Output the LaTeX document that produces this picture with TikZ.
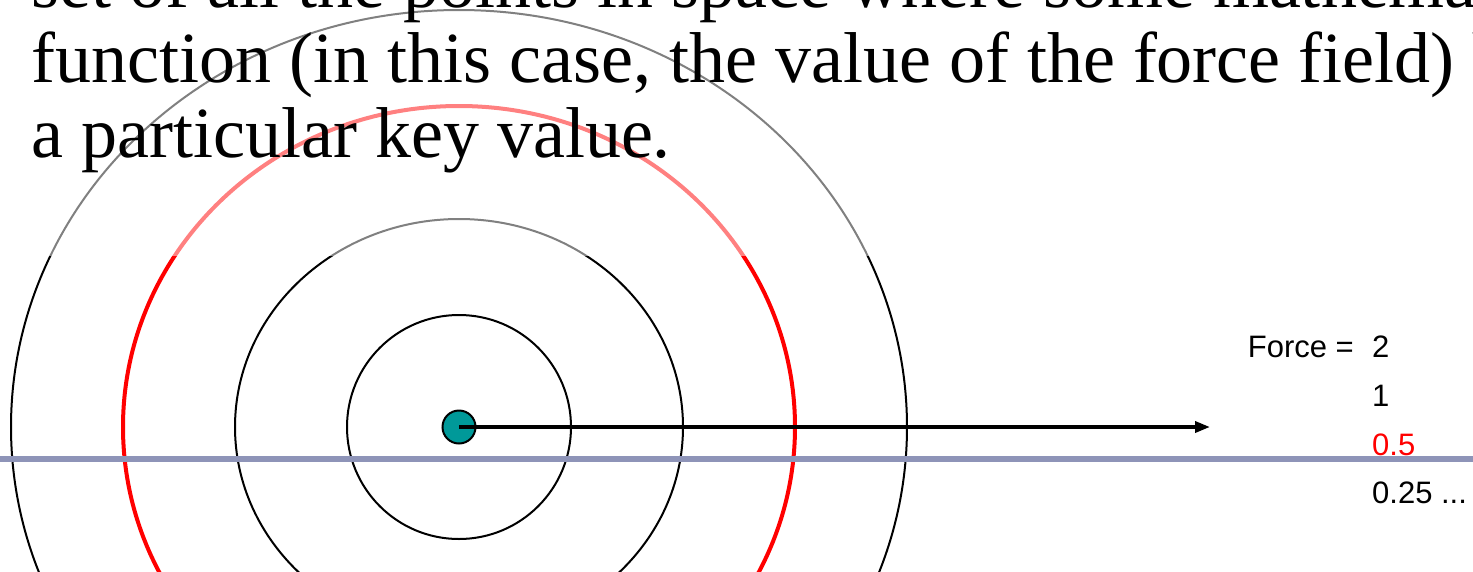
\documentclass[tikz,border=0pt]{standalone}
\usepackage{fontspec}
\setmainfont{Liberation Serif}
\setsansfont{Liberation Sans}
\usetikzlibrary{arrows.meta}
\definecolor{dotteal}{RGB}{0,153,153}
\definecolor{rulegray}{RGB}{142,148,184}
\tikzset{ring/.style={draw=black, line width=2pt},
  keyring/.style={draw=red, line width=4pt},
  bodyline/.style={font=\fontsize{72}{75}\selectfont, inner sep=0pt, anchor=base west},
  forcelbl/.style={font=\sffamily\fontsize{31}{36}\selectfont, inner sep=0pt, anchor=base west}}

\begin{document}
\begin{tikzpicture}[x=1pt,y=-1pt]
  \path [use as bounding box, clip] (0,0) rectangle (1473,571);
  \fill [white] (0,0) rectangle (1473,571);
  \coordinate (mid) at (459,427);
  \coordinate (tip) at (1210,427);
  % rings of equal force
  \draw [ring]    (mid) ellipse [x radius=112, y radius=112];
  \draw [ring]    (mid) ellipse [x radius=224, y radius=208];
  \draw [keyring] (mid) ellipse [x radius=336, y radius=321];
  \draw [ring]    (mid) ellipse [x radius=448, y radius=417];
  % text box over the top
  \fill [white, opacity=0.5] (0,0) rectangle (1473,256);
  \node [bodyline] (ln1) at (31,7)   {set of all the points in space where some mathematical};
  \node [bodyline] (ln2) at (31,82)  {function (in this case, the value of the force field) has};
  \node [bodyline] (ln3) at (31,157) {a particular key value.};
  \node [circle, draw=black, line width=2pt, fill=dotteal, minimum size=33pt, inner sep=0pt] (src) at (mid) {};
  \draw [line width=3.5pt, -{Triangle[length=15pt,width=11pt]}] (src.center) -- (tip);
  \node [forcelbl, anchor=base east] (forcetxt) at (1354,357) {Force =};
  \node [forcelbl] (ftwo)     at (1372,357) {2};
  \node [forcelbl] (fone)     at (1372,406) {1};
  \node [forcelbl, text=red] (fhalf) at (1372,455) {0.5};
  \node [forcelbl] (fquarter) at (1372,503) {0.25 ...};
  \draw [rulegray, line width=6pt] (0,459) -- (1473,459);
\end{tikzpicture}
\end{document}
